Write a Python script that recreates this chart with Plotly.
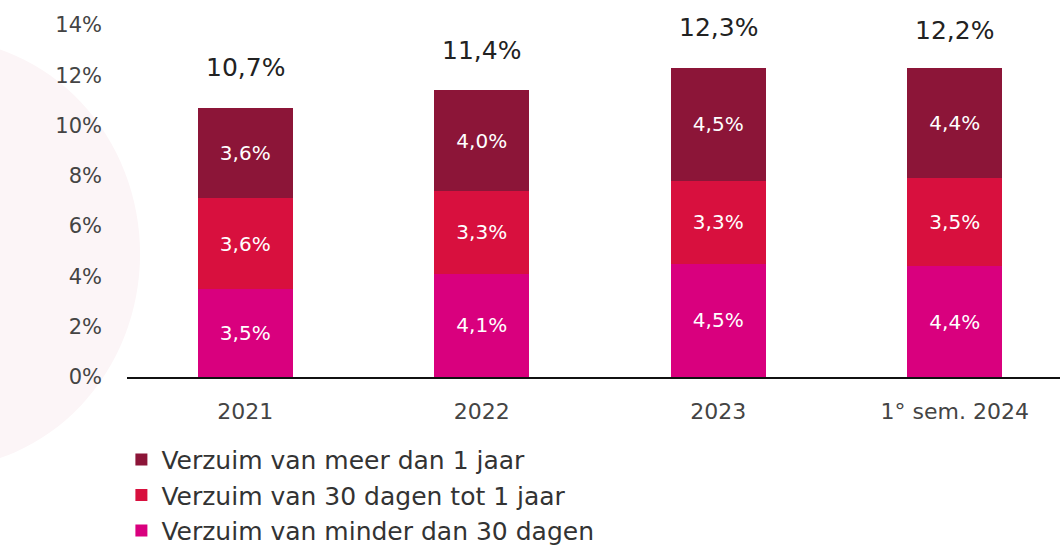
import plotly.graph_objects as go

categories = ["2021", "2022", "2023", "1° sem. 2024"]
minder_30 = [3.5, 4.1, 4.5, 4.4]
tot_1jaar = [3.6, 3.3, 3.3, 3.5]
meer_1jaar = [3.6, 4.0, 4.5, 4.4]
totals = [10.7, 11.4, 12.3, 12.2]
y_ticks = [0, 2, 4, 6, 8, 10, 12, 14]

series = [
    ("Verzuim van minder dan 30 dagen", minder_30, "#D9007E"),
    ("Verzuim van 30 dagen tot 1 jaar", tot_1jaar, "#D8103E"),
    ("Verzuim van meer dan 1 jaar", meer_1jaar, "#8C1538"),
]

FONT = "DejaVu Sans"

def fmt(v):
    return f"{v:.1f}".replace(".", ",") + "%"

fig = go.Figure()
for name, vals, col in series:
    fig.add_trace(go.Bar(
        x=categories, y=vals, name=name, marker_color=col,
        marker_line_width=0, width=0.4,
        text=[fmt(v) for v in vals], textposition="inside",
        insidetextanchor="middle",
        textfont=dict(color="white", size=20, family=FONT),
    ))

for i, t in enumerate(totals):
    fig.add_annotation(x=i, y=t, xref="x", yref="y", text=fmt(t), showarrow=False,
                       yanchor="middle", yshift=40,
                       font=dict(size=25, color="#222222", family=FONT))

fig.add_shape(type="circle", xref="paper", yref="paper",
              x0=-0.42, x1=0.014, y0=-0.26, y1=0.96,
              fillcolor="#FCF5F7", line_width=0, layer="below")

fig.update_layout(
    width=1060, height=547,
    barmode="stack",
    plot_bgcolor="rgba(0,0,0,0)", paper_bgcolor="white",
    margin=dict(l=127, r=0, t=25, b=170, autoexpand=False),
    font=dict(family=FONT, color="#444444"),
    showlegend=True,
    legend=dict(traceorder="reversed", orientation="v",
                x=-0.006, y=-0.17, xanchor="left", yanchor="top",
                font=dict(size=25, color="#333333"),
                itemwidth=30, tracegroupgap=0, bgcolor="rgba(0,0,0,0)"),
    uniformtext=dict(mode="show", minsize=20),
)
fig.update_xaxes(type="category", range=[-0.5, 3.445], showline=True, linecolor="#111111",
                 linewidth=2, ticks="", tickfont=dict(size=22, color="#444444"),
                 showgrid=False, zeroline=False, ticklabelstandoff=14)
fig.update_yaxes(range=[0, 14], tickvals=y_ticks,
                 ticktext=[f"{v}%" for v in y_ticks],
                 tickfont=dict(size=21, color="#444444"),
                 showgrid=False, zeroline=False, showline=False,
                 ticklabelstandoff=24)

fig.write_html("out.html", config={"displayModeBar": False},
               post_script="document.body.style.margin='0';")
